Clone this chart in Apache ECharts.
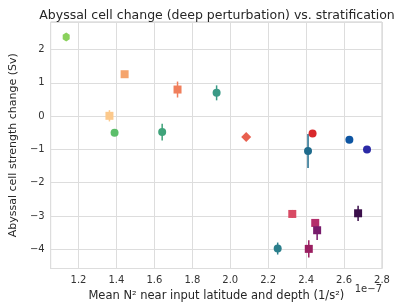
<!DOCTYPE html>
<html>
<head>
<meta charset="utf-8">
<script src="https://cdn.jsdelivr.net/npm/echarts@6/dist/echarts.min.js"></script>
<style>html,body{margin:0;padding:0;background:#fff}#c{width:397px;height:308px}</style>
</head>
<body>
<div id="c"></div>
<script>
const xVals = [1.135, 1.443, 1.722, 1.928, 1.363, 1.390, 1.641, 2.084, 2.434, 2.410, 2.628, 2.721, 2.327, 2.674, 2.448, 2.458, 2.250, 2.414];
const yVals = [2.38, 1.26, 0.80, 0.70, 0.01, -0.50, -0.48, -0.63, -0.52, -1.05, -0.71, -1.00, -2.94, -2.92, -3.21, -3.43, -3.98, -3.99];
const yErr  = [0.05, 0.05, 0.24, 0.225, 0.17, 0.08, 0.25, 0.05, 0.05, 0.51, 0.05, 0.05, 0.12, 0.23, 0.10, 0.29, 0.18, 0.26];
const markers = ['hex','square','square','circle','square','circle','circle','diamond','circle','circle','circle','circle','square','square','square','square','circle','square'];
const colors = ['#8ad15c','#f5a46c','#f07f5c','#3a9a86','#fcc98c','#5cbe6a','#3fa37a','#e8604f','#d9282b','#1f6b8c','#0d55a2','#2b2aa6','#d84a64','#3b0f4b','#b42e6c','#781c6c','#2b7f8c','#9a1e60'];
const xTicks = [1.2, 1.4, 1.6, 1.8, 2.0, 2.2, 2.4, 2.6, 2.8];
const yTicks = [-4, -3, -2, -1, 0, 1, 2];

const hexPath = 'path://M0,-1 L0.866,-0.5 L0.866,0.5 L0,1 L-0.866,0.5 L-0.866,-0.5 Z';
const symMap = {hex: hexPath, square: 'rect', circle: 'circle', diamond: 'diamond'};
const sizeMap = {hex: [7, 9], square: 8, circle: 8, diamond: 10};

const font = 'DejaVu Sans';
const txt = '#333';

const scatterData = xVals.map((x, i) => ({
  value: [x, yVals[i]],
  symbol: symMap[markers[i]],
  symbolSize: sizeMap[markers[i]],
  itemStyle: {color: colors[i], opacity: 1}
}));
const errData = xVals.map((x, i) => [x, yVals[i] - yErr[i], yVals[i] + yErr[i], i]);

const chart = echarts.init(document.getElementById('c'), null, {renderer: 'canvas'});
const fmt = v => String(v).replace('-', '\u2212');
chart.setOption({
  animation: false,
  backgroundColor: '#fff',
  title: {
    text: 'Abyssal cell change (deep perturbation) vs. stratification',
    left: 212, top: 4, textAlign: 'center',
    textStyle: {fontFamily: font, fontSize: 12.5, fontWeight: 'normal', color: '#262626'}
  },
  grid: {left: 42, right: 15, top: 22, bottom: 39.5, show: true, borderColor: '#cccccc', borderWidth: 1, backgroundColor: 'transparent'},
  xAxis: {
    type: 'value', min: 1.053, max: 2.8, minInterval: 0.2, maxInterval: 0.2,
    name: 'Mean N\u00b2 near input latitude and depth (1/s\u00b2)',
    nameLocation: 'middle', nameGap: 19,
    nameTextStyle: {fontFamily: font, fontSize: 11.5, color: '#262626'},
    axisLine: {show: false}, axisTick: {show: false},
    axisLabel: {fontFamily: font, fontSize: 10, color: txt, margin: 7, showMinLabel: false, showMaxLabel: true,
      formatter: v => xTicks.some(t => Math.abs(t - v) < 1e-6) ? v.toFixed(1) : ''},
    splitLine: {show: true, lineStyle: {color: '#dddddd', width: 1}}
  },
  yAxis: {
    type: 'value', min: -4.58, max: 2.83, minInterval: 1, maxInterval: 1,
    name: 'Abyssal cell strength change (Sv)',
    nameLocation: 'middle', nameGap: 19,
    nameTextStyle: {fontFamily: font, fontSize: 11, color: '#262626'},
    axisLine: {show: false}, axisTick: {show: false},
    axisLabel: {fontFamily: font, fontSize: 10, color: txt, margin: 6, showMinLabel: false, showMaxLabel: false,
      formatter: v => yTicks.some(t => Math.abs(t - v) < 1e-6) ? fmt(Math.round(v)) : ''},
    splitLine: {show: true, lineStyle: {color: '#dddddd', width: 1}}
  },
  graphic: [{
    type: 'text', right: 15, top: 284,
    style: {text: '1e\u22127', fontFamily: font, fontSize: 10, fill: txt}
  }],
  series: [
    {
      type: 'custom',
      data: errData,
      z: 2,
      renderItem: function (params, api) {
        const i = api.value(3);
        const p1 = api.coord([api.value(0), api.value(1)]);
        const p2 = api.coord([api.value(0), api.value(2)]);
        return {type: 'line', shape: {x1: p1[0], y1: p1[1], x2: p2[0], y2: p2[1]},
          style: {stroke: colors[i], lineWidth: 1.5}};
      },
      encode: {x: 0, y: [1, 2]}
    },
    {
      type: 'scatter', z: 3,
      data: scatterData
    }
  ]
});
</script>
</body>
</html>
